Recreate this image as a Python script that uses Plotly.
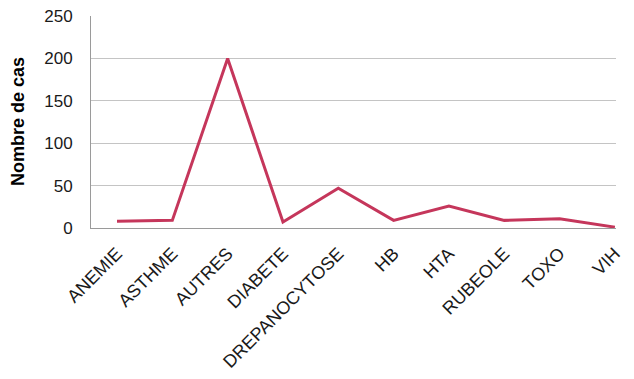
import plotly.graph_objects as go

# Cases per pathology
categories = ["ANEMIE", "ASTHME", "AUTRES", "DIABETE", "DREPANOCYTOSE",
              "HB", "HTA", "RUBEOLE", "TOXO", "VIH"]
cases = [8, 9, 200, 7, 47, 9, 26, 9, 11, 1]
y_ticks = [0, 50, 100, 150, 200, 250]

W, H = 634, 379
M_L, M_R, M_T, M_B = 91, 18, 16, 151
plot_w = W - M_L - M_R

fig = go.Figure()
fig.add_trace(go.Scatter(
    x=categories, y=cases, mode="lines",
    line=dict(color="#C5365B", width=3),
    showlegend=False,
))

font = "Liberation Sans, Arial, sans-serif"
fig.update_layout(
    width=W, height=H,
    margin=dict(l=M_L, r=M_R, t=M_T, b=M_B),
    paper_bgcolor="white", plot_bgcolor="white",
    font=dict(family=font, color="#1a1a1a", size=16),
    xaxis=dict(
        type="category", range=[-0.47, 9.02], automargin=False,
        tickangle=-45, tickfont=dict(size=18, color="#1a1a1a"),
        ticks="outside", ticklen=7, tickcolor="rgba(0,0,0,0)",
        showline=True, linecolor="#9a9a9a", linewidth=1,
        showgrid=False, zeroline=False,
    ),
    yaxis=dict(
        range=[0, 250], tickvals=y_ticks, automargin=False,
        tickfont=dict(size=17, color="#1a1a1a"),
        ticks="outside", ticklen=14, tickcolor="rgba(0,0,0,0)",
        showline=True, linecolor="#9a9a9a", linewidth=1,
        showgrid=True, gridcolor="#c4c4c4", gridwidth=1,
        zeroline=False,
    ),
    annotations=[dict(
        text="<b>Nombre de cas</b>", textangle=-90,
        xref="paper", yref="paper",
        x=(18 - M_L) / plot_w, y=0.5,
        xanchor="center", yanchor="middle",
        showarrow=False, font=dict(size=18, color="#000000"),
    )],
)

fig.write_html("out.html")
